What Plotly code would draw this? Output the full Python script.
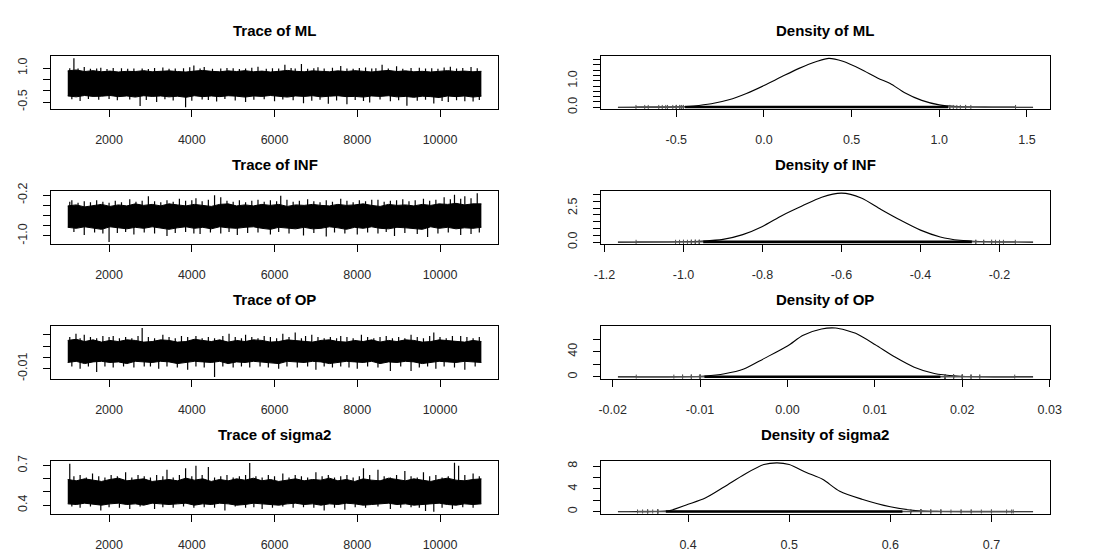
import numpy as np
import plotly.graph_objects as go

W, H = 1099, 552

params = ["ML", "INF", "OP", "sigma2"]
iter_first, iter_last = 1001, 11000

# ---- MCMC trace: per-bin envelope (50 bins) of the bulk of the chain ----
ML_hi = [0.88, 0.92, 0.85, 0.89, 0.84, 0.87, 0.83, 0.86, 0.85, 0.89,
         0.84, 0.86, 0.88, 0.85, 0.83, 0.87, 0.90, 0.86, 0.84, 0.88,
         0.85, 0.89, 0.84, 0.87, 0.83, 0.86, 0.90, 0.86, 0.84, 0.88,
         0.86, 0.84, 0.88, 0.85, 0.89, 0.86, 0.83, 0.87, 0.90, 0.85,
         0.88, 0.84, 0.86, 0.83, 0.86, 0.89, 0.85, 0.87, 0.84, 0.86]
ML_lo = [-0.23, -0.27, -0.21, -0.25, -0.24, -0.21, -0.26, -0.23, -0.28, -0.22,
         -0.25, -0.23, -0.27, -0.24, -0.29, -0.22, -0.26, -0.23, -0.26, -0.22,
         -0.24, -0.28, -0.23, -0.25, -0.21, -0.26, -0.28, -0.23, -0.25, -0.22,
         -0.27, -0.24, -0.22, -0.26, -0.25, -0.28, -0.23, -0.25, -0.22, -0.27,
         -0.25, -0.29, -0.24, -0.26, -0.30, -0.23, -0.26, -0.23, -0.28, -0.24]
INF_hi = [-0.41, -0.39, -0.43, -0.40, -0.38, -0.42, -0.39, -0.41, -0.37, -0.40,
          -0.38, -0.41, -0.37, -0.39, -0.41, -0.38, -0.40, -0.42, -0.38, -0.37,
          -0.41, -0.39, -0.41, -0.38, -0.40, -0.38, -0.42, -0.39, -0.40, -0.38,
          -0.40, -0.41, -0.38, -0.40, -0.39, -0.37, -0.40, -0.42, -0.38, -0.40,
          -0.39, -0.41, -0.38, -0.40, -0.37, -0.38, -0.36, -0.39, -0.37, -0.37]
INF_lo = [-0.83, -0.85, -0.82, -0.85, -0.87, -0.82, -0.84, -0.86, -0.83, -0.85,
          -0.82, -0.85, -0.87, -0.84, -0.82, -0.85, -0.83, -0.86, -0.82, -0.84,
          -0.85, -0.83, -0.82, -0.85, -0.87, -0.83, -0.84, -0.86, -0.83, -0.86,
          -0.85, -0.82, -0.84, -0.87, -0.83, -0.85, -0.82, -0.85, -0.86, -0.83,
          -0.84, -0.86, -0.87, -0.82, -0.85, -0.83, -0.86, -0.84, -0.85, -0.83]
OP_hi = [0.015, 0.016, 0.014, 0.0155, 0.0135, 0.015, 0.014, 0.0155, 0.015, 0.0135,
         0.014, 0.0155, 0.015, 0.0135, 0.014, 0.016, 0.015, 0.014, 0.0155, 0.0135,
         0.015, 0.014, 0.0155, 0.015, 0.0135, 0.014, 0.0155, 0.015, 0.014, 0.0135,
         0.015, 0.0155, 0.014, 0.0135, 0.015, 0.014, 0.0155, 0.0135, 0.015, 0.014,
         0.0155, 0.015, 0.0135, 0.014, 0.0155, 0.015, 0.014, 0.0135, 0.015, 0.014]
OP_lo = [-0.0045, -0.0035, -0.0055, -0.004, -0.0035, -0.0045, -0.004, -0.0055, -0.0035, -0.004,
         -0.0045, -0.0035, -0.004, -0.0055, -0.0045, -0.0035, -0.004, -0.0045, -0.0035, -0.0055,
         -0.004, -0.0045, -0.0035, -0.004, -0.0045, -0.0055, -0.0035, -0.004, -0.0045, -0.0035,
         -0.004, -0.0055, -0.0045, -0.0035, -0.004, -0.0045, -0.0035, -0.0055, -0.004, -0.0045,
         -0.0035, -0.004, -0.0055, -0.0045, -0.0035, -0.004, -0.0045, -0.0035, -0.004, -0.0045]
sigma2_hi = [0.595, 0.585, 0.60, 0.59, 0.58, 0.595, 0.605, 0.585, 0.59, 0.60,
             0.58, 0.59, 0.595, 0.585, 0.605, 0.59, 0.60, 0.58, 0.595, 0.585,
             0.60, 0.59, 0.605, 0.585, 0.595, 0.58, 0.59, 0.60, 0.585, 0.595,
             0.59, 0.605, 0.585, 0.595, 0.58, 0.60, 0.59, 0.585, 0.605, 0.595,
             0.585, 0.60, 0.59, 0.58, 0.595, 0.605, 0.59, 0.585, 0.595, 0.60]
sigma2_lo = [0.41, 0.405, 0.415, 0.41, 0.40, 0.41, 0.415, 0.405, 0.41, 0.40,
             0.415, 0.41, 0.405, 0.41, 0.415, 0.40, 0.41, 0.405, 0.415, 0.41,
             0.40, 0.405, 0.415, 0.41, 0.405, 0.40, 0.41, 0.415, 0.405, 0.41,
             0.40, 0.41, 0.405, 0.415, 0.41, 0.40, 0.405, 0.41, 0.415, 0.405,
             0.41, 0.40, 0.405, 0.41, 0.415, 0.405, 0.40, 0.41, 0.405, 0.41]

# ---- excursions of the chain beyond the bulk: (iteration, value) ----
ML_excursions = [
    (1050, 1.00), (1150, 1.435), (1250, 0.98), (1400, 1.05), (1550, 0.97), (1700, 0.99), (1800, 1.02),
    (1950, 0.96), (2100, 1.01), (2300, 1.00), (2450, 0.97), (2600, 0.98), (2800, 0.99), (2950, 0.96),
    (3100, 1.01), (3300, 1.03), (3450, 0.97), (3600, 0.99), (3800, 1.00), (3950, 1.04), (4050, 1.12),
    (4200, 0.98), (4300, 1.05), (4500, 0.97), (4700, 0.99), (4850, 1.01), (5000, 1.00), (5150, 0.96),
    (5300, 0.98), (5450, 1.02), (5600, 1.06), (5800, 0.97), (5950, 1.00), (6100, 0.98), (6250, 1.15),
    (6400, 1.01), (6500, 0.99), (6650, 1.18), (6800, 0.97), (6950, 1.00), (7050, 1.04), (7200, 0.98),
    (7400, 1.02), (7600, 1.10), (7750, 0.99), (7900, 0.97), (8050, 1.01), (8200, 1.03), (8350, 0.98),
    (8450, 1.00), (8600, 1.15), (8750, 0.99), (8950, 1.08), (9100, 0.97), (9300, 1.01), (9500, 1.02),
    (9650, 0.98), (9800, 1.00), (9950, 0.97), (10100, 1.03), (10250, 1.06), (10400, 0.99), (10550, 1.01),
    (10750, 1.05), (10900, 1.00),
    (1100, -0.38), (1300, -0.45), (1500, -0.36), (1750, -0.40), (2000, -0.37), (2200, -0.42), (2500, -0.39),
    (2750, -0.68), (2900, -0.41), (3150, -0.50), (3350, -0.38), (3550, -0.43), (3850, -0.73), (4000, -0.44),
    (4250, -0.39), (4400, -0.41), (4600, -0.48), (4800, -0.37), (5050, -0.43), (5300, -0.50), (5500, -0.40),
    (5750, -0.38), (6000, -0.46), (6200, -0.39), (6450, -0.42), (6700, -0.55), (6900, -0.44), (7100, -0.40),
    (7300, -0.58), (7500, -0.43), (7750, -0.60), (7950, -0.41), (8150, -0.45), (8300, -0.52), (8550, -0.39),
    (8800, -0.47), (9000, -0.42), (9200, -0.66), (9450, -0.44), (9650, -0.40), (9850, -0.56), (10050, -0.45),
    (10200, -0.50), (10400, -0.42), (10600, -0.46), (10800, -0.48), (10950, -0.41)]
INF_excursions = [
    (1050, -0.33), (1100, -0.30), (1250, -0.35), (1400, -0.32), (1550, -0.34), (1700, -0.30), (1850, -0.33),
    (2000, -0.35), (2150, -0.31), (2300, -0.34), (2500, -0.28), (2650, -0.33), (2800, -0.31), (2950, -0.22),
    (3100, -0.32), (3250, -0.34), (3400, -0.30), (3550, -0.33), (3700, -0.27), (3850, -0.31), (4000, -0.30),
    (4100, -0.26), (4250, -0.32), (4400, -0.29), (4550, -0.20), (4700, -0.24), (4850, -0.31), (5000, -0.33),
    (5150, -0.30), (5300, -0.34), (5450, -0.31), (5600, -0.29), (5750, -0.33), (5900, -0.30), (6050, -0.32),
    (6150, -0.21), (6300, -0.29), (6450, -0.33), (6600, -0.31), (6800, -0.28), (6950, -0.32), (7100, -0.34),
    (7250, -0.30), (7400, -0.33), (7600, -0.27), (7750, -0.31), (7900, -0.34), (8050, -0.30), (8200, -0.32),
    (8350, -0.29), (8500, -0.29), (8650, -0.33), (8800, -0.31), (8950, -0.30), (9100, -0.28), (9250, -0.32),
    (9400, -0.30), (9600, -0.27), (9750, -0.31), (9900, -0.29), (10100, -0.24), (10250, -0.28), (10350, -0.19),
    (10500, -0.27), (10600, -0.22), (10750, -0.26), (10900, -0.16),
    (1150, -0.92), (1400, -0.98), (1650, -0.93), (1850, -0.95), (2000, -1.12), (2200, -0.94), (2400, -0.92),
    (2600, -0.97), (2850, -0.93), (3100, -0.95), (3400, -1.00), (3600, -0.94), (3850, -0.92), (4050, -0.95),
    (4200, -0.96), (4450, -0.93), (4700, -0.95), (4900, -0.92), (5100, -0.98), (5350, -0.94), (5600, -0.93),
    (5900, -0.97), (6100, -0.92), (6350, -0.95), (6700, -0.99), (6950, -0.94), (7250, -1.01), (7450, -0.93),
    (7700, -0.95), (8000, -0.97), (8250, -0.93), (8500, -0.95), (8700, -0.92), (8900, -1.00), (9150, -0.94),
    (9450, -0.96), (9700, -1.02), (9950, -0.95), (10200, -0.93), (10500, -0.98), (10750, -0.96), (10950, -0.93)]
OP_excursions = [
    (1050, 0.018), (1200, 0.021), (1300, 0.017), (1400, 0.020), (1550, 0.018), (1700, 0.017), (1850, 0.019),
    (2000, 0.018), (2100, 0.019), (2250, 0.017), (2400, 0.018), (2550, 0.017), (2700, 0.019), (2800, 0.026),
    (2950, 0.018), (3100, 0.017), (3300, 0.020), (3450, 0.018), (3600, 0.017), (3750, 0.019), (3900, 0.018),
    (4100, 0.019), (4250, 0.017), (4400, 0.018), (4550, 0.017), (4750, 0.019), (4900, 0.021), (5050, 0.018),
    (5200, 0.017), (5300, 0.020), (5450, 0.018), (5600, 0.017), (5750, 0.019), (5900, 0.018), (6050, 0.017),
    (6200, 0.021), (6350, 0.018), (6500, 0.022), (6650, 0.017), (6750, 0.019), (6900, 0.020), (7050, 0.018),
    (7200, 0.017), (7350, 0.018), (7500, 0.017), (7600, 0.019), (7750, 0.018), (7900, 0.017), (8100, 0.020),
    (8250, 0.018), (8400, 0.017), (8550, 0.018), (8700, 0.019), (8850, 0.017), (9000, 0.018), (9150, 0.017),
    (9300, 0.020), (9450, 0.018), (9600, 0.017), (9750, 0.019), (9850, 0.022), (10000, 0.018), (10150, 0.017),
    (10300, 0.019), (10500, 0.019), (10650, 0.018), (10800, 0.017), (10950, 0.018),
    (1100, -0.008), (1300, -0.010), (1500, -0.008), (1700, -0.013), (1900, -0.008), (2100, -0.009),
    (2350, -0.008), (2600, -0.009), (2850, -0.008), (3000, -0.008), (3200, -0.010), (3400, -0.008),
    (3650, -0.009), (3900, -0.011), (4100, -0.008), (4300, -0.009), (4550, -0.0173), (4750, -0.008),
    (5000, -0.009), (5200, -0.008), (5400, -0.009), (5650, -0.008), (5850, -0.009), (6100, -0.010),
    (6300, -0.008), (6550, -0.009), (6800, -0.008), (7000, -0.011), (7200, -0.008), (7400, -0.009),
    (7600, -0.008), (7800, -0.009), (8000, -0.010), (8250, -0.008), (8500, -0.009), (8800, -0.012),
    (9050, -0.008), (9300, -0.012), (9500, -0.009), (9700, -0.008), (9900, -0.010), (10100, -0.008),
    (10350, -0.009), (10600, -0.011), (10850, -0.008)]
sigma2_excursions = [
    (1050, 0.715), (1150, 0.62), (1300, 0.63), (1450, 0.61), (1600, 0.64), (1750, 0.62), (1900, 0.61),
    (2050, 0.63), (2200, 0.62), (2400, 0.65), (2550, 0.61), (2700, 0.63), (2850, 0.62), (3000, 0.61),
    (3150, 0.63), (3300, 0.62), (3400, 0.67), (3550, 0.61), (3700, 0.63), (3850, 0.68), (4000, 0.62),
    (4100, 0.70), (4250, 0.63), (4400, 0.69), (4550, 0.61), (4700, 0.62), (4850, 0.63), (5000, 0.61),
    (5150, 0.62), (5300, 0.63), (5400, 0.72), (5550, 0.62), (5700, 0.61), (5850, 0.63), (6000, 0.62),
    (6200, 0.64), (6350, 0.61), (6500, 0.63), (6650, 0.62), (6800, 0.61), (7000, 0.65), (7150, 0.62),
    (7300, 0.63), (7450, 0.61), (7600, 0.62), (7750, 0.63), (7900, 0.61), (8050, 0.62), (8150, 0.68),
    (8300, 0.63), (8500, 0.67), (8650, 0.62), (8800, 0.61), (8950, 0.63), (9150, 0.66), (9300, 0.62),
    (9450, 0.61), (9600, 0.65), (9750, 0.62), (9900, 0.63), (10050, 0.61), (10200, 0.62), (10350, 0.7216),
    (10450, 0.70), (10600, 0.63), (10800, 0.64), (10950, 0.62),
    (1100, 0.39), (1300, 0.38), (1550, 0.39), (1800, 0.36), (2000, 0.385), (2250, 0.38), (2500, 0.37),
    (2750, 0.39), (3100, 0.37), (3300, 0.385), (3550, 0.38), (3800, 0.39), (4050, 0.38), (4300, 0.385),
    (4550, 0.38), (4800, 0.36), (5050, 0.39), (5300, 0.38), (5500, 0.385), (5700, 0.37), (5950, 0.38),
    (6200, 0.39), (6450, 0.38), (6700, 0.385), (6950, 0.38), (7200, 0.36), (7450, 0.38), (7700, 0.365),
    (7950, 0.385), (8200, 0.38), (8500, 0.39), (8800, 0.37), (9050, 0.38), (9300, 0.385), (9500, 0.38),
    (9650, 0.355), (9850, 0.35), (10050, 0.38), (10300, 0.37), (10550, 0.385), (10800, 0.38)]

# ---- kernel density estimates ----
ML_dens_x = [-0.833, -0.6, -0.5, -0.4, -0.3, -0.2, -0.1, 0.0, 0.1, 0.2, 0.3, 0.37, 0.45,
             0.55, 0.65, 0.72, 0.8, 0.9, 1.0, 1.1, 1.2, 1.3, 1.535]
ML_dens_y = [0.0, 0.004, 0.015, 0.05, 0.13, 0.28, 0.52, 0.82, 1.15, 1.47, 1.73, 1.85, 1.74,
             1.45, 1.10, 0.90, 0.56, 0.26, 0.09, 0.025, 0.008, 0.002, 0.0]
INF_dens_x = [-1.166, -1.0, -0.95, -0.9, -0.85, -0.8, -0.75, -0.7, -0.65, -0.6, -0.55, -0.5,
              -0.45, -0.4, -0.35, -0.3, -0.25, -0.2, -0.115]
INF_dens_y = [0.0, 0.02, 0.07, 0.2, 0.55, 1.15, 1.96, 2.65, 3.3, 3.6, 3.25, 2.4, 1.6, 0.88,
              0.38, 0.13, 0.04, 0.01, 0.0]
OP_dens_x = [-0.0194, -0.012, -0.0094, -0.0072, -0.005, -0.0027, 0.0, 0.0018, 0.0039, 0.0055,
             0.0067, 0.0078, 0.01, 0.0123, 0.0145, 0.0168, 0.0194, 0.022, 0.0281]
OP_dens_y = [0.0, 0.4, 1.5, 5.0, 12.5, 29.0, 49.0, 66.0, 76.0, 77.5, 74.0, 69.0, 51.5, 31.5,
             15.5, 5.5, 1.5, 0.3, 0.0]
sigma2_dens_x = [0.3306, 0.36, 0.381, 0.4, 0.417, 0.436, 0.456, 0.475, 0.488, 0.5, 0.517,
                 0.533, 0.55, 0.572, 0.6, 0.625, 0.65, 0.7, 0.7412]
sigma2_dens_y = [0.0, 0.03, 0.17, 1.3, 2.4, 4.4, 6.6, 8.3, 8.6, 8.3, 6.9, 5.7, 3.6, 2.2, 0.87,
                 0.2, 0.05, 0.01, 0.0]

# ---- span where the observations are dense (rug core) ----
ML_obs_core = [-0.45, 1.05]
INF_obs_core = [-0.95, -0.27]
OP_obs_core = [-0.0095, 0.0175]
sigma2_obs_core = [0.378, 0.612]

# ---- tick labels ----
trace_xticks = [2000, 4000, 6000, 8000, 10000]
trace_yticks = {
    "ML": ([-0.5, 0.0, 0.5, 1.0], ["-0.5", "", "", "1.0"]),
    "INF": ([-1.0, -0.8, -0.6, -0.4, -0.2], ["-1.0", "", "", "", "-0.2"]),
    "OP": ([-0.01, 0.0, 0.01, 0.02], ["-0.01", "", "", ""]),
    "sigma2": ([0.4, 0.5, 0.6, 0.7], ["0.4", "", "", "0.7"]),
}
dens_xticks = {
    "ML": ([-0.5, 0.0, 0.5, 1.0, 1.5], ["-0.5", "0.0", "0.5", "1.0", "1.5"]),
    "INF": ([-1.2, -1.0, -0.8, -0.6, -0.4, -0.2], ["-1.2", "-1.0", "-0.8", "-0.6", "-0.4", "-0.2"]),
    "OP": ([-0.02, -0.01, 0.0, 0.01, 0.02, 0.03], ["-0.02", "-0.01", "0.00", "0.01", "0.02", "0.03"]),
    "sigma2": ([0.4, 0.5, 0.6, 0.7], ["0.4", "0.5", "0.6", "0.7"]),
}
dens_yticks = {
    "ML": ([0.0, 0.2, 0.4, 0.6, 0.8, 1.0, 1.2, 1.4, 1.6, 1.8],
           ["0.0", "", "", "", "", "1.0", "", "", "", ""]),
    "INF": ([0.0, 0.5, 1.0, 1.5, 2.0, 2.5, 3.0, 3.5], ["0.0", "", "", "", "", "2.5", "", ""]),
    "OP": ([0, 20, 40, 60], ["0", "", "40", ""]),
    "sigma2": ([0, 2, 4, 6, 8], ["0", "", "4", "", "8"]),
}

data = {
    "ML": (ML_hi, ML_lo, ML_excursions, ML_dens_x, ML_dens_y, ML_obs_core),
    "INF": (INF_hi, INF_lo, INF_excursions, INF_dens_x, INF_dens_y, INF_obs_core),
    "OP": (OP_hi, OP_lo, OP_excursions, OP_dens_x, OP_dens_y, OP_obs_core),
    "sigma2": (sigma2_hi, sigma2_lo, sigma2_excursions, sigma2_dens_x, sigma2_dens_y,
               sigma2_obs_core),
}

# ---- panel geometry (pixels) ----
row_top = [48.7, 187.3, 325.9, 464.5]
box_h = 54.3
trace_lr = (44, 499)
dens_lr = (604.3, 1061)

FONT = "Liberation Sans, Arial, Helvetica, sans-serif"
tickfont = dict(family=FONT, size=12.5, color="#2a2a2a")
titlefont = dict(family=FONT, size=15, color="black")


def padded(lo, hi, frac=0.04):
    d = (hi - lo) * frac
    return [lo - d, hi + d]


axis_common = dict(showline=True, linecolor="black", linewidth=1, mirror=True,
                   ticks="outside", ticklen=7, tickwidth=1, tickcolor="black",
                   showgrid=False, zeroline=False, tickfont=tickfont, fixedrange=True)

fig = go.Figure()
layout = {}
annotations = []

for r, p in enumerate(params):
    hi, lo, exc, dx, dy, core = data[p]
    exc_it = [e[0] for e in exc]
    exc_val = [e[1] for e in exc]
    y_top = 1 - row_top[r] / H
    y_bot = 1 - (row_top[r] + box_h) / H

    # ---------- trace panel ----------
    ti = 2 * r + 1
    xa, ya = f"x{ti}", f"y{ti}"
    bins = np.linspace(iter_first, iter_last, len(hi))
    centre = float(np.median(hi + lo))
    fig.add_trace(go.Scatter(x=bins, y=hi, mode="lines", line=dict(color="black", width=1),
                             xaxis=xa, yaxis=ya, hoverinfo="skip"))
    fig.add_trace(go.Scatter(x=bins, y=lo, mode="lines", line=dict(color="black", width=1),
                             fill="tonexty", fillcolor="black",
                             xaxis=xa, yaxis=ya, hoverinfo="skip"))
    sx, sy = [], []
    for it, v in zip(exc_it, exc_val):
        sx += [it, it, None]
        sy += [centre, v, None]
    fig.add_trace(go.Scatter(x=sx, y=sy, mode="lines", line=dict(color="black", width=1.2),
                             xaxis=xa, yaxis=ya, hoverinfo="skip"))
    all_vals = list(hi) + list(lo) + exc_val
    yt_vals, yt_text = trace_yticks[p]
    layout[f"xaxis{ti}"] = dict(axis_common, domain=[trace_lr[0] / W, trace_lr[1] / W],
                                range=padded(iter_first, iter_last), anchor=ya,
                                tickvals=trace_xticks, ticktext=[str(t) for t in trace_xticks],
                                ticklabelstandoff=12)
    layout[f"yaxis{ti}"] = dict(axis_common, domain=[y_bot, y_top],
                                range=padded(min(all_vals), max(all_vals)), anchor=xa,
                                tickvals=yt_vals, ticktext=yt_text, tickangle=-90,
                                ticklabelstandoff=11)
    annotations.append(dict(text=f"<b>Trace of {p}</b>", xref="paper", yref="paper",
                            x=(trace_lr[0] + trace_lr[1]) / 2 / W,
                            y=1 - (row_top[r] - 27) / H, showarrow=False,
                            xanchor="center", yanchor="middle", font=titlefont))

    # ---------- density panel ----------
    di = 2 * r + 2
    xa, ya = f"x{di}", f"y{di}"
    M = max(dy)
    fig.add_trace(go.Scatter(x=dx, y=dy, mode="lines",
                             line=dict(color="black", width=1.1, shape="spline", smoothing=0.8),
                             xaxis=xa, yaxis=ya, hoverinfo="skip"))
    # observations: full span thin, dense core thick, isolated values as small ticks
    obs_lo, obs_hi = min(exc_val), max(exc_val)
    fig.add_trace(go.Scatter(x=[obs_lo, obs_hi], y=[M * 0.004] * 2, mode="lines",
                             line=dict(color="#555555", width=1.4),
                             xaxis=xa, yaxis=ya, hoverinfo="skip"))
    fig.add_trace(go.Scatter(x=core, y=[M * 0.004] * 2, mode="lines",
                             line=dict(color="black", width=2.6),
                             xaxis=xa, yaxis=ya, hoverinfo="skip"))
    tails = [v for v in exc_val if v < core[0] or v > core[1]]
    fig.add_trace(go.Scatter(x=tails, y=[M * 0.004] * len(tails), mode="markers",
                             marker=dict(symbol="line-ns", size=3,
                                         line=dict(color="#555555", width=1)),
                             xaxis=xa, yaxis=ya, hoverinfo="skip"))
    xt_vals, xt_text = dens_xticks[p]
    dyt_vals, dyt_text = dens_yticks[p]
    layout[f"xaxis{di}"] = dict(axis_common, domain=[dens_lr[0] / W, dens_lr[1] / W],
                                range=padded(min(dx), max(dx)), anchor=ya,
                                tickvals=xt_vals, ticktext=xt_text, ticklabelstandoff=12)
    layout[f"yaxis{di}"] = dict(axis_common, domain=[y_bot, y_top],
                                range=[-0.04 * M, 1.04 * M], anchor=xa,
                                tickvals=dyt_vals, ticktext=dyt_text, tickangle=-90,
                                ticklabelstandoff=11)
    annotations.append(dict(text=f"<b>Density of {p}</b>", xref="paper", yref="paper",
                            x=(dens_lr[0] + dens_lr[1]) / 2 / W,
                            y=1 - (row_top[r] - 27) / H, showarrow=False,
                            xanchor="center", yanchor="middle", font=titlefont))

fig.update_layout(width=W, height=H, margin=dict(l=0, r=0, t=0, b=0),
                  paper_bgcolor="white", plot_bgcolor="white", showlegend=False,
                  annotations=annotations, **layout)

fig.write_html("out.html", config={"displayModeBar": False})
